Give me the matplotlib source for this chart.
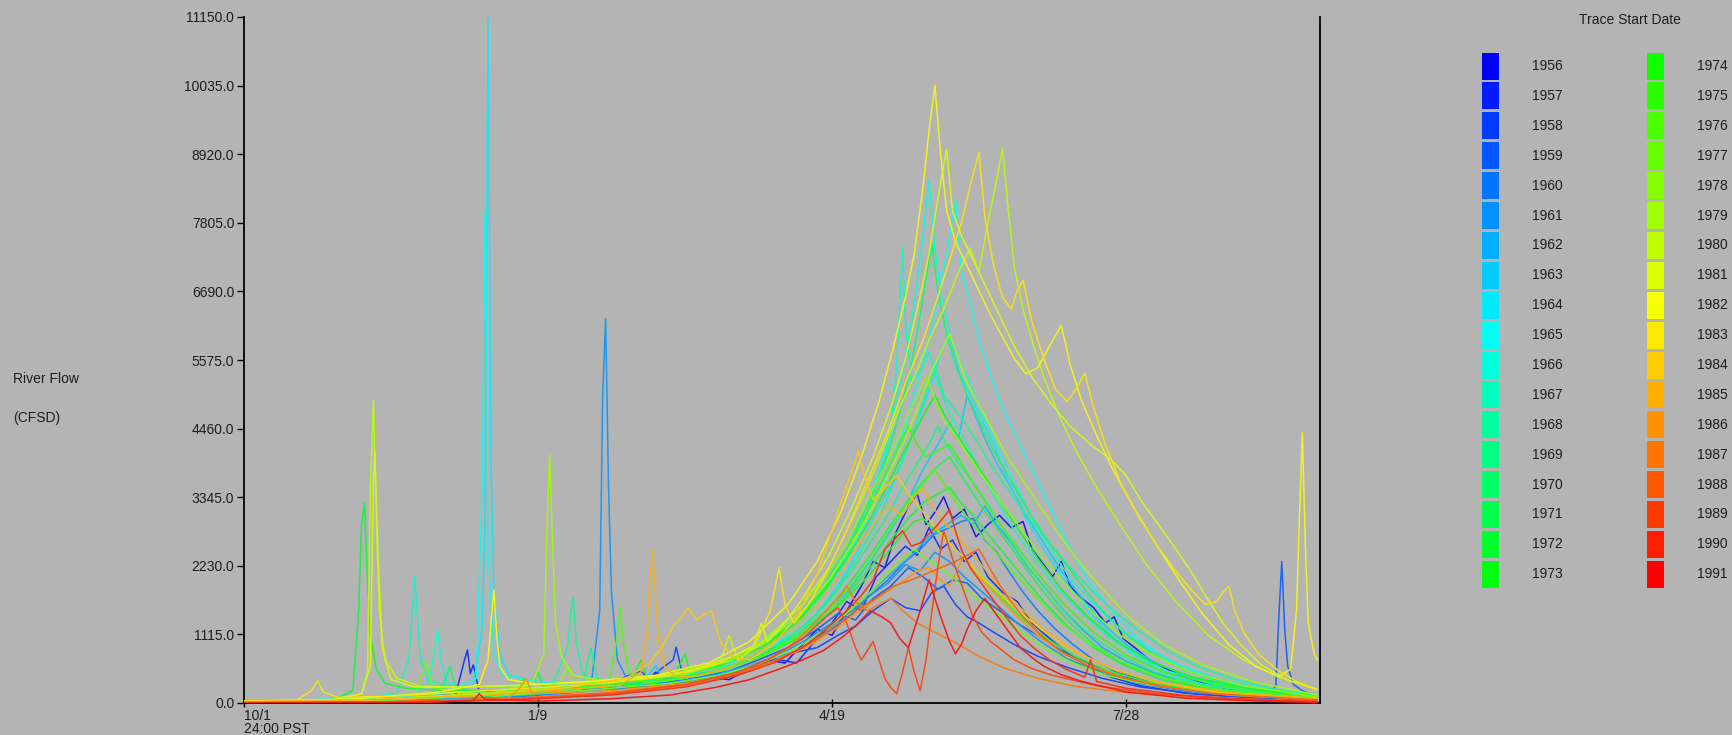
import colorsys
import matplotlib
matplotlib.use("Agg")
import matplotlib.pyplot as plt
from matplotlib.patches import Rectangle

plt.rcParams['font.family'] = ['Liberation Sans', 'DejaVu Sans']

# x axis: days since 10/1 (water year), y axis: river flow in CFSD
years = list(range(1956, 1992))
tick_days = [0, 100, 200, 300]
tick_labels = ['10/1\n24:00 PST', '1/9', '4/19', '7/28']
y_ticks = [i * 1115 for i in range(11)]

# one trace per start year as (day, flow) points
y1956 = [(0, 20), (25, 25), (50, 50), (70, 90), (90, 130), (110, 170), (125, 240), (132, 420), (136, 300),
         (140, 500), (144, 380), (150, 330), (158, 420), (165, 380), (172, 560), (178, 700), (184, 650),
         (190, 950), (195, 1200), (200, 1100), (205, 1500), (210, 1900), (214, 2300), (218, 2200), (222, 2800),
         (226, 3200), (229, 3400), (232, 2900), (235, 3100), (238, 3350), (241, 3000), (245, 3150), (249, 2700),
         (253, 2900), (257, 3050), (261, 2850), (265, 2950), (268, 2500), (272, 2250), (275, 2050), (278, 2300),
         (281, 1900), (285, 1700), (289, 1550), (293, 1300), (296, 1400), (299, 1050), (303, 900), (308, 700),
         (314, 550), (320, 420), (328, 300), (338, 200), (350, 110), (365, 60)]
y1957 = [(0, 15), (30, 30), (55, 70), (72, 140), (75, 700), (76, 860), (77, 480), (78, 620), (80, 180),
         (90, 160), (110, 200), (130, 250), (145, 300), (160, 380), (170, 500), (180, 720), (188, 650),
         (195, 1050), (200, 1300), (205, 1650), (210, 1500), (215, 2050), (220, 2300), (225, 2550), (229, 2400),
         (233, 2850), (237, 2500), (241, 2650), (245, 2300), (249, 2450), (253, 2050), (258, 1800), (263, 1650),
         (268, 1300), (274, 1050), (280, 820), (287, 600), (295, 420), (305, 280), (320, 160), (345, 80),
         (365, 40)]
y1958 = [(0, 10), (40, 30), (80, 100), (110, 200), (125, 320), (130, 430), (135, 520), (138, 380), (142, 560),
         (146, 700), (147, 910), (149, 500), (152, 360), (158, 420), (165, 460), (172, 600), (180, 660),
         (187, 820), (195, 900), (202, 1100), (208, 1250), (214, 1500), (220, 1700), (225, 1550), (230, 1500),
         (234, 1800), (238, 1900), (242, 1600), (246, 1400), (250, 1300), (255, 1150), (262, 950), (270, 760),
         (280, 580), (292, 400), (305, 260), (325, 140), (345, 80), (365, 50)]
y1959 = [(0, 10), (50, 40), (90, 100), (120, 220), (140, 300), (155, 420), (165, 520), (175, 700), (185, 900),
         (195, 1200), (202, 1450), (208, 1350), (214, 1700), (220, 1900), (226, 2200), (231, 2050), (236, 1850),
         (241, 2000), (246, 1950), (251, 1700), (257, 1500), (263, 1300), (270, 1100), (278, 850), (287, 650),
         (297, 450), (310, 300), (325, 200), (340, 130), (349, 120), (351, 300), (352, 1400), (353, 2300),
         (354, 1200), (355, 600), (357, 300), (360, 200), (365, 100)]
y1960 = [(0, 15), (50, 35), (90, 90), (120, 200), (145, 300), (160, 380), (172, 550), (182, 700), (192, 950),
         (200, 1200), (207, 1450), (213, 1750), (219, 2000), (225, 2300), (230, 2500), (235, 2750), (240, 2850),
         (244, 2950), (248, 3000), (252, 2650), (256, 2450), (260, 2150), (265, 1800), (270, 1500), (276, 1200),
         (282, 950), (289, 700), (296, 520), (304, 400), (315, 260), (330, 160), (345, 100), (365, 70)]
y1961 = [(0, 20), (40, 45), (80, 110), (105, 170), (118, 250), (121, 1500), (122, 5000), (123, 6250),
         (124, 3500), (125, 1800), (127, 700), (130, 420), (138, 330), (150, 350), (162, 420), (172, 600),
         (182, 780), (192, 1050), (200, 1300), (207, 1500), (213, 1750), (219, 1950), (225, 2250), (230, 2150),
         (235, 2450), (240, 2300), (245, 2050), (250, 1850), (256, 1600), (263, 1300), (271, 1000), (280, 720),
         (290, 520), (302, 340), (320, 190), (340, 110), (365, 70)]
y1962 = [(0, 20), (50, 45), (90, 110), (125, 230), (130, 380), (132, 450), (134, 300), (140, 280), (160, 450),
         (175, 650), (188, 850), (198, 1150), (206, 1500), (213, 1800), (220, 2100), (227, 2400), (233, 2700),
         (239, 2900), (244, 3050), (248, 2900), (252, 3200), (256, 2900), (261, 2600), (266, 2250), (272, 1900),
         (278, 1550), (285, 1200), (292, 900), (300, 680), (310, 480), (322, 300), (340, 160), (365, 80)]
y1963 = [(0, 20), (50, 55), (90, 140), (130, 300), (137, 420), (140, 600), (143, 380), (160, 520), (175, 780),
         (188, 1050), (198, 1450), (206, 1850), (213, 2300), (220, 2800), (226, 3300), (231, 3800), (236, 4200),
         (240, 4550), (243, 4300), (246, 5000), (249, 4650), (252, 4300), (256, 3900), (261, 3500), (266, 3050),
         (272, 2600), (278, 2150), (285, 1700), (292, 1300), (300, 950), (310, 650), (322, 420), (340, 230),
         (365, 110)]
y1964 = [(0, 20), (40, 55), (65, 130), (78, 300), (81, 1200), (82, 3000), (83, 11150), (84, 4000), (85, 1800),
         (87, 800), (90, 450), (100, 350), (115, 300), (130, 330), (145, 380), (160, 500), (172, 700),
         (184, 1000), (194, 1400), (202, 1900), (209, 2500), (215, 3100), (221, 3600), (226, 4200), (230, 4700),
         (234, 5200), (237, 5700), (240, 6000), (243, 5400), (246, 5100), (250, 4700), (255, 4200), (260, 3600),
         (266, 3000), (272, 2500), (279, 2000), (287, 1500), (295, 1100), (303, 780), (312, 520), (325, 320),
         (345, 170), (365, 100)]
y1965 = [(0, 25), (40, 70), (68, 160), (79, 400), (81, 3500), (82, 8000), (83, 2500), (85, 800), (88, 450),
         (100, 350), (120, 300), (140, 350), (155, 450), (170, 700), (182, 1000), (192, 1450), (200, 1900),
         (207, 2500), (214, 3200), (220, 3900), (225, 4500), (229, 5200), (233, 5900), (236, 6600), (239, 7300),
         (242, 8170), (244, 7000), (247, 6500), (250, 5900), (254, 5300), (258, 4800), (263, 4300), (268, 3800),
         (274, 3200), (280, 2600), (287, 2000), (295, 1500), (304, 1050), (314, 700), (328, 420), (345, 230),
         (365, 110)]
y1966 = [(0, 20), (40, 55), (58, 130), (63, 350), (65, 900), (66, 1190), (67, 700), (69, 350), (74, 200),
         (90, 220), (110, 260), (130, 330), (150, 450), (165, 650), (178, 950), (190, 1400), (199, 1900),
         (206, 2500), (212, 3200), (217, 3900), (221, 4700), (225, 5600), (228, 6500), (231, 7600), (233, 8500),
         (235, 7400), (237, 6700), (240, 6000), (243, 5600), (247, 5200), (251, 4700), (256, 4200), (261, 3700),
         (267, 3100), (273, 2600), (280, 2100), (288, 1650), (297, 1250), (307, 900), (318, 620), (332, 380),
         (348, 220), (365, 130)]
y1967 = [(0, 25), (40, 75), (52, 160), (56, 700), (57, 1300), (58, 2050), (59, 1400), (60, 700), (63, 350),
         (72, 260), (90, 280), (110, 320), (130, 380), (150, 480), (165, 700), (178, 1000), (190, 1450),
         (199, 1950), (206, 2500), (212, 3100), (217, 3800), (220, 4400), (222, 5500), (223, 6400), (224, 7400),
         (225, 6200), (227, 5200), (230, 5400), (233, 5700), (236, 5200), (240, 4700), (245, 4300), (250, 3800),
         (256, 3300), (262, 2800), (268, 2400), (275, 1950), (283, 1550), (292, 1150), (302, 800), (314, 520),
         (330, 320), (348, 180), (365, 100)]
y1968 = [(0, 20), (45, 55), (85, 130), (105, 280), (110, 900), (111, 1400), (112, 1720), (113, 1000),
         (115, 500), (120, 320), (135, 310), (150, 400), (165, 600), (180, 900), (192, 1300), (201, 1800),
         (209, 2400), (216, 3000), (222, 3700), (227, 4300), (231, 4900), (235, 5500), (238, 5000), (242, 4750),
         (246, 4500), (250, 4200), (255, 3800), (261, 3400), (267, 3000), (274, 2600), (281, 2200), (289, 1800),
         (297, 1450), (305, 1150), (314, 850), (324, 600), (336, 400), (350, 230), (365, 120)]
y1969 = [(0, 20), (45, 45), (66, 90), (69, 450), (70, 600), (72, 250), (85, 140), (115, 230), (117, 700),
         (118, 900), (120, 400), (130, 280), (145, 380), (162, 540), (176, 800), (188, 1150), (198, 1600),
         (206, 2100), (213, 2600), (219, 3050), (224, 3500), (229, 3900), (233, 4200), (236, 4500), (239, 4200),
         (243, 3900), (247, 3650), (252, 3300), (258, 2850), (264, 2400), (271, 1950), (279, 1500), (288, 1100),
         (298, 780), (310, 500), (325, 300), (345, 170), (365, 90)]
y1970 = [(0, 20), (45, 55), (85, 160), (120, 300), (145, 430), (162, 620), (176, 950), (188, 1400),
         (197, 1900), (205, 2500), (212, 3200), (218, 3900), (223, 4700), (227, 5500), (230, 6300), (232, 6900),
         (234, 7470), (236, 6700), (239, 6000), (242, 5500), (246, 5000), (250, 4600), (255, 4100), (261, 3600),
         (267, 3100), (274, 2600), (282, 2100), (290, 1600), (299, 1150), (309, 800), (320, 530), (335, 320),
         (350, 180), (365, 110)]
y1971 = [(0, 15), (45, 45), (85, 120), (97, 180), (100, 500), (102, 260), (120, 250), (145, 370), (162, 530),
         (176, 780), (188, 1100), (198, 1500), (206, 1950), (213, 2400), (220, 2900), (226, 3300), (231, 3600),
         (236, 3850), (240, 4000), (244, 3700), (248, 3400), (253, 3050), (259, 2650), (265, 2250), (272, 1800),
         (280, 1350), (289, 950), (299, 650), (312, 420), (330, 230), (350, 130), (365, 90)]
y1972 = [(0, 20), (30, 45), (37, 200), (39, 1500), (40, 2900), (41, 3250), (42, 2000), (43, 1100), (45, 550),
         (48, 320), (55, 240), (70, 200), (90, 210), (115, 260), (140, 340), (160, 500), (176, 750), (188, 1050),
         (198, 1400), (206, 1800), (213, 2200), (220, 2650), (226, 3000), (231, 3250), (236, 3400), (240, 3500),
         (244, 3250), (248, 3050), (253, 2750), (259, 2400), (265, 2050), (272, 1650), (280, 1250), (289, 900),
         (299, 620), (312, 380), (330, 210), (350, 120), (365, 80)]
y1973 = [(0, 20), (45, 55), (85, 150), (120, 300), (132, 380), (135, 700), (137, 420), (145, 440), (162, 620),
         (176, 900), (188, 1300), (197, 1800), (205, 2350), (212, 2900), (218, 3450), (223, 3950), (228, 4400),
         (232, 4750), (235, 5000), (238, 4700), (242, 4400), (246, 4100), (251, 3750), (257, 3300), (263, 2850),
         (270, 2350), (278, 1850), (287, 1400), (297, 1000), (308, 680), (322, 430), (340, 240), (365, 110)]
y1974 = [(0, 15), (45, 45), (85, 130), (120, 260), (145, 380), (148, 600), (150, 800), (152, 450),
         (162, 530), (176, 760), (188, 1050), (198, 1400), (206, 1750), (213, 2100), (219, 2450), (224, 2750),
         (228, 2950), (231, 3000), (234, 2850), (238, 2700), (243, 2450), (249, 2150), (256, 1800), (264, 1400),
         (273, 1050), (283, 750), (294, 520), (307, 350), (325, 200), (345, 120), (365, 80)]
y1975 = [(0, 20), (45, 55), (85, 140), (93, 220), (95, 400), (97, 200), (120, 290), (145, 420), (162, 600),
         (176, 900), (188, 1350), (197, 1850), (205, 2450), (211, 3000), (216, 3500), (221, 4000), (224, 4300),
         (226, 4500), (229, 4200), (232, 4000), (236, 4100), (240, 4200), (244, 3900), (249, 3500), (255, 3050),
         (262, 2600), (270, 2100), (279, 1600), (289, 1150), (300, 780), (313, 500), (330, 300), (350, 160),
         (365, 90)]
y1976 = [(0, 15), (45, 45), (85, 130), (115, 240), (124, 300), (126, 800), (127, 1100), (128, 1560),
         (129, 1000), (131, 500), (136, 330), (150, 400), (163, 530), (177, 780), (189, 1100), (199, 1500),
         (207, 1950), (214, 2400), (220, 2850), (225, 3200), (230, 3500), (235, 3800), (239, 3500), (243, 3200),
         (248, 2900), (254, 2550), (261, 2150), (269, 1750), (278, 1300), (288, 950), (299, 660), (312, 420),
         (330, 230), (350, 130), (365, 90)]
y1977 = [(0, 15), (45, 40), (58, 70), (61, 500), (62, 700), (64, 250), (85, 110), (120, 220), (145, 320),
         (162, 450), (176, 650), (188, 900), (198, 1200), (206, 1500), (213, 1800), (219, 2100), (224, 2350),
         (228, 2500), (232, 2350), (237, 2200), (242, 2000), (248, 1750), (255, 1500), (263, 1200), (272, 900),
         (282, 650), (294, 440), (308, 300), (328, 170), (365, 70)]
y1978 = [(0, 20), (45, 55), (85, 160), (107, 260), (110, 600), (112, 320), (120, 320), (145, 470), (162, 670),
         (176, 1000), (188, 1500), (197, 2000), (205, 2600), (211, 3200), (217, 3750), (222, 4250), (226, 4700),
         (229, 5000), (232, 5300), (235, 4950), (238, 4600), (242, 4350), (246, 4050), (251, 3700), (257, 3300),
         (264, 2850), (271, 2400), (279, 1950), (288, 1500), (298, 1100), (309, 780), (322, 500), (340, 280),
         (365, 100)]
y1979 = [(0, 20), (45, 60), (85, 170), (98, 300), (102, 800), (103, 2800), (104, 4030), (105, 2500),
         (106, 1300), (108, 750), (112, 450), (120, 380), (135, 380), (150, 470), (165, 680), (178, 1000),
         (190, 1500), (199, 2000), (207, 2600), (214, 3200), (220, 3800), (225, 4300), (230, 4900), (234, 5400),
         (237, 5700), (240, 6000), (243, 5600), (246, 5200), (250, 4850), (255, 4400), (261, 3900), (268, 3400),
         (275, 2900), (283, 2350), (292, 1850), (302, 1350), (313, 950), (326, 620), (343, 350), (365, 130)]
y1980 = [(0, 25), (30, 50), (40, 150), (42, 500), (43, 3500), (44, 4920), (45, 3000), (46, 1500), (48, 700),
         (52, 400), (60, 270), (75, 260), (90, 280), (110, 320), (130, 380), (150, 500), (162, 650), (165, 1100),
         (168, 700), (178, 1050), (190, 1600), (199, 2200), (206, 2900), (212, 3500), (218, 4200), (223, 4800),
         (228, 5300), (233, 5900), (238, 6400), (243, 7000), (247, 7400), (250, 7000), (253, 7800), (256, 8500),
         (258, 9020), (260, 8000), (262, 7100), (265, 6400), (268, 5900), (272, 5300), (277, 4700), (283, 4100),
         (290, 3500), (298, 2900), (307, 2250), (317, 1650), (328, 1100), (340, 700), (352, 420), (365, 220)]
y1981 = [(0, 25), (30, 50), (40, 150), (43, 600), (44, 3600), (44.5, 4100), (45.5, 2500), (47, 900), (50, 380),
         (58, 260), (75, 260), (95, 290), (115, 340), (135, 400), (152, 520), (166, 760), (173, 900), (176, 1300),
         (178, 1000), (184, 1300), (190, 1700), (199, 2400), (207, 3200), (214, 4000), (220, 4800), (225, 5600),
         (229, 6400), (233, 7300), (236, 8200), (239, 9000), (241, 8000), (244, 7600), (248, 7200), (252, 6800),
         (257, 6300), (262, 5800), (268, 5300), (274, 4900), (281, 4500), (288, 4200), (295, 3950), (300, 3700),
         (305, 3300), (311, 2900), (317, 2500), (322, 2150), (327, 1750), (333, 1300), (339, 950), (346, 620),
         (355, 370), (365, 220)]
y1982 = [(0, 25), (35, 60), (65, 170), (80, 300), (83, 700), (84, 1300), (85, 1840), (86, 1100), (87, 600),
         (90, 380), (100, 300), (120, 360), (140, 450), (158, 650), (172, 1000), (185, 1600), (195, 2300),
         (203, 3100), (210, 4000), (216, 4900), (221, 5800), (225, 6600), (228, 7300), (231, 8400), (233, 9300),
         (235, 10040), (237, 8900), (239, 8000), (242, 7500), (246, 7100), (250, 6700), (254, 6300), (258, 5950),
         (262, 5600), (266, 5350), (270, 5450), (274, 5800), (278, 6140), (281, 5500), (285, 4900), (290, 4350),
         (296, 3750), (303, 3150), (310, 2600), (318, 2000), (326, 1450), (335, 950), (344, 600), (352, 430),
         (356, 550), (358, 1500), (359, 3000), (360, 4400), (361, 2600), (362, 1300), (364, 800), (365, 700)]
y1983 = [(0, 30), (18, 50), (23, 200), (25, 360), (27, 180), (32, 90), (50, 110), (75, 180), (100, 250),
         (125, 330), (145, 450), (162, 650), (174, 950), (179, 1500), (182, 2200), (184, 1600), (187, 1300),
         (192, 1600), (198, 2100), (205, 2800), (212, 3600), (219, 4400), (225, 5200), (231, 5900), (236, 6600),
         (240, 7200), (244, 7800), (247, 8400), (250, 8950), (252, 7900), (255, 7100), (258, 6600), (261, 6400),
         (263, 6700), (265, 6870), (268, 6200), (272, 5600), (276, 5100), (280, 4900), (283, 5100), (286, 5360),
         (289, 4800), (293, 4200), (298, 3600), (304, 3050), (310, 2600), (316, 2200), (322, 1850), (327, 1600),
         (331, 1650), (333, 1800), (335, 1900), (337, 1500), (340, 1150), (345, 800), (352, 520), (358, 350),
         (365, 220)]
y1984 = [(0, 20), (40, 50), (80, 130), (110, 250), (130, 400), (138, 650), (142, 900), (146, 1250),
         (149, 1400), (151, 1550), (154, 1350), (157, 1450), (159, 1500), (162, 1000), (166, 750), (172, 700),
         (180, 950), (188, 1400), (195, 2100), (200, 2800), (204, 3400), (207, 3800), (209, 4100), (211, 3700),
         (214, 3300), (218, 3500), (222, 3700), (226, 3400), (231, 3100), (237, 2750), (244, 2400), (252, 2000),
         (261, 1600), (271, 1200), (282, 850), (295, 560), (310, 340), (330, 180), (365, 70)]
y1985 = [(0, 20), (40, 45), (80, 120), (110, 220), (128, 290), (135, 500), (137, 1100), (138, 2000),
         (139, 2490), (140, 1700), (141, 1000), (143, 600), (147, 420), (155, 450), (165, 580), (176, 850),
         (186, 1200), (195, 1600), (202, 2050), (208, 2500), (214, 2900), (219, 3200), (224, 3050), (228, 3350),
         (231, 3500), (234, 3200), (238, 2950), (243, 2700), (249, 2350), (256, 1950), (264, 1550), (273, 1150),
         (284, 800), (297, 520), (312, 330), (335, 170), (365, 70)]
y1986 = [(0, 10), (50, 25), (90, 80), (94, 250), (96, 400), (98, 150), (125, 200), (150, 320), (168, 480),
         (182, 700), (193, 950), (201, 1200), (208, 1450), (214, 1650), (220, 1850), (225, 2000), (229, 2150),
         (233, 2200), (237, 2000), (240, 1900), (243, 2200), (245, 2400), (248, 2150), (252, 1950), (257, 1700),
         (263, 1400), (270, 1100), (278, 830), (288, 600), (300, 400), (315, 250), (335, 130), (365, 50)]
y1987 = [(0, 5), (50, 15), (90, 60), (125, 150), (150, 280), (165, 450), (176, 650), (185, 900), (191, 1150),
         (196, 1400), (200, 1600), (203, 1750), (205, 1900), (208, 1650), (212, 1500), (216, 1600), (220, 1700),
         (224, 1500), (229, 1300), (235, 1150), (242, 980), (250, 760), (259, 560), (270, 400), (283, 270),
         (300, 170), (325, 90), (365, 30)]
y1988 = [(0, 5), (50, 20), (90, 70), (125, 170), (150, 300), (168, 480), (182, 720), (193, 980), (201, 1250),
         (208, 1500), (215, 1700), (221, 1900), (227, 2000), (232, 2100), (237, 2200), (242, 2300), (246, 2400),
         (250, 2500), (253, 2250), (256, 2000), (260, 1700), (265, 1400), (271, 1100), (278, 830), (287, 600),
         (298, 420), (312, 270), (330, 150), (365, 50)]
y1989 = [(0, 5), (50, 15), (90, 55), (125, 150), (150, 300), (168, 500), (180, 750), (190, 1050), (198, 1400),
         (202, 1550), (205, 1300), (208, 900), (210, 700), (214, 1000), (218, 400), (220, 250), (222, 150),
         (224, 500), (226, 900), (228, 500), (230, 200), (232, 700), (234, 1500), (236, 2200), (238, 2800),
         (240, 2500), (242, 2200), (245, 1800), (248, 1400), (251, 1150), (254, 1000), (258, 850), (262, 700),
         (268, 560), (275, 450), (290, 280), (310, 150), (335, 70), (365, 25)]
y1990 = [(0, 3), (50, 10), (90, 45), (125, 130), (150, 260), (168, 450), (180, 650), (190, 900), (198, 1200),
         (205, 1500), (210, 1750), (214, 2000), (218, 2500), (221, 2650), (224, 2800), (227, 2550), (230, 2600),
         (233, 2750), (236, 2900), (240, 3140), (242, 2800), (244, 2500), (247, 2200), (250, 2000), (253, 1800),
         (256, 1600), (260, 1350), (264, 1100), (269, 880), (274, 700), (280, 540), (286, 420), (288, 700),
         (290, 350), (300, 240), (320, 120), (345, 50), (365, 20)]
y1991 = [(0, 0), (60, 5), (78, 40), (80, 150), (82, 60), (100, 30), (125, 70), (145, 130), (160, 250),
         (172, 380), (182, 550), (190, 700), (197, 850), (203, 1050), (208, 1250), (213, 1500), (217, 1400),
         (220, 1300), (223, 1050), (226, 900), (228, 1200), (230, 1500), (233, 2000), (235, 1700), (237, 1400),
         (240, 1000), (242, 800), (244, 950), (246, 1200), (249, 1500), (252, 1700), (255, 1500), (258, 1300),
         (261, 1100), (264, 900), (268, 740), (272, 600), (278, 460), (285, 350), (300, 180), (320, 80),
         (345, 30), (365, 10)]

traces = [y1956, y1957, y1958, y1959, y1960, y1961, y1962, y1963, y1964, y1965, y1966, y1967,
          y1968, y1969, y1970, y1971, y1972, y1973, y1974, y1975, y1976, y1977, y1978, y1979,
          y1980, y1981, y1982, y1983, y1984, y1985, y1986, y1987, y1988, y1989, y1990, y1991]

# rainbow from blue (first year) to red (last year)
n = len(years)
colors = [colorsys.hsv_to_rgb((240 - 240 * i / (n - 1)) / 360, 1, 1) for i in range(n)]

bg = '#b4b4b4'
ink = '#1e1e1e'
W, H = 1732, 735


def soften(c, k=0.15):
    # thin lines in the source look a little washed into the grey
    g = 180 / 255
    return tuple(v * (1 - k) + g * k for v in c)


fig = plt.figure(figsize=(W / 100, H / 100), dpi=100, facecolor=bg)
ax = fig.add_axes([244 / W, 1 - 703 / H, (1320 - 244) / W, (703 - 17) / H])
ax.set_facecolor(bg)

for pts, c in zip(traces, colors):
    d = [p[0] for p in pts]
    v = [p[1] for p in pts]
    ax.plot(d, v, color=soften(c), lw=1.1, zorder=3)

ax.set_xlim(0, 366)
ax.set_ylim(0, 11150)
ax.set_yticks(y_ticks, [f'{v:.1f}' for v in y_ticks])
ax.set_xticks(tick_days, tick_labels)
ax.get_xticklabels()[0].set_horizontalalignment('left')
ax.tick_params(axis='y', direction='out', length=5, width=1, color='black', labelsize=10, pad=2, labelcolor=ink)
ax.tick_params(axis='x', direction='inout', length=6, width=1, color='black', labelsize=10, pad=1, labelcolor=ink)
for lab in ax.get_xticklabels():
    lab.set_linespacing(0.95)

ax.spines['top'].set_visible(False)
for s in ['left', 'right', 'bottom']:
    ax.spines[s].set_color('black')
    ax.spines[s].set_linewidth(1.3)

fig.text(13 / W, 1 - 379 / H, 'River Flow', fontsize=10, color=ink, va='center', ha='left')
fig.text(13 / W, 1 - 418 / H, '(CFSD)', fontsize=10, color=ink, va='center', ha='left')

# legend drawn in figure pixel space
lg = fig.add_axes([0, 0, 1, 1])
lg.set_xlim(0, W)
lg.set_ylim(H, 0)
lg.axis('off')
lg.patch.set_alpha(0)
lg.text(1630, 20, 'Trace Start Date', fontsize=10, color=ink, ha='center', va='center')
for i, (yr, c) in enumerate(zip(years, colors)):
    col, row = divmod(i, 18)
    x0 = 1482 if col == 0 else 1647
    yc = 66 + row * 29.9
    lg.add_patch(Rectangle((x0, yc - 13.5), 17, 27, facecolor=c, edgecolor='none'))
    lg.text(x0 + 50, yc, str(yr), fontsize=10, color=ink, ha='left', va='center')

fig.savefig('out.png', dpi=100, facecolor=bg)
